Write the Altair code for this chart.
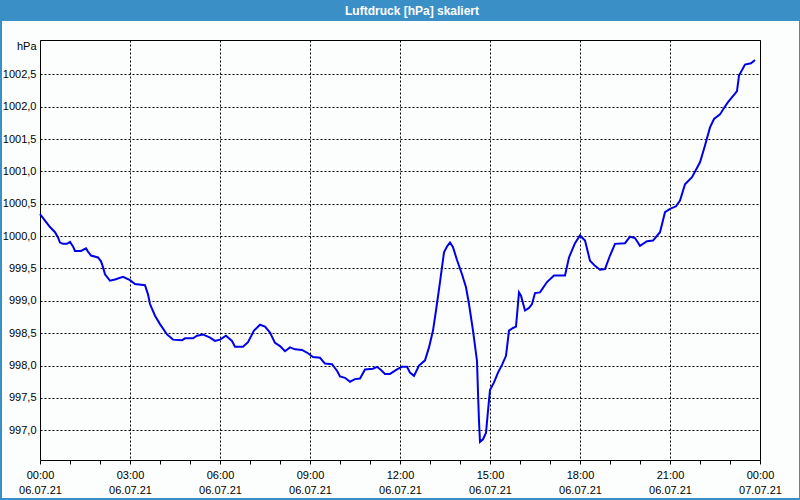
import altair as alt
import pandas as pd

# --- data ---
times = [
    "00:00", "00:10", "00:20", "00:30", "00:36", "00:40", "00:46", "00:54", "01:00", "01:06",
    "01:10", "01:22", "01:32", "01:36", "01:42", "01:56", "02:02", "02:06", "02:10", "02:20",
    "02:30", "02:46", "03:00", "03:10", "03:30", "03:36", "03:40", "03:50", "04:00", "04:14",
    "04:26", "04:44", "04:50", "05:06", "05:14", "05:26", "05:40", "05:50", "06:00", "06:12",
    "06:24", "06:30", "06:46", "06:56", "07:08", "07:20", "07:30", "07:40", "07:50", "08:00",
    "08:10", "08:20", "08:30", "08:44", "08:56", "09:06", "09:20", "09:30", "09:44", "09:54",
    "10:00", "10:10", "10:20", "10:30", "10:40", "10:50", "11:06", "11:14", "11:22", "11:30",
    "11:40", "11:54", "12:04", "12:14", "12:20", "12:28", "12:38", "12:50", "12:58", "13:06",
    "13:12", "13:20", "13:28", "13:34", "13:40", "13:46", "13:54", "14:04", "14:12", "14:18",
    "14:26", "14:34", "14:36", "14:38", "14:40", "14:46", "14:52", "14:56", "15:00", "15:08",
    "15:16", "15:24", "15:32", "15:38", "15:46", "15:52", "15:58", "16:02", "16:10", "16:18",
    "16:24", "16:30", "16:40", "16:54", "17:08", "17:30", "17:38", "17:50", "18:00", "18:10",
    "18:20", "18:30", "18:40", "18:50", "19:00", "19:10", "19:30", "19:40", "19:50", "20:00",
    "20:14", "20:26", "20:40", "20:50", "21:00", "21:12", "21:20", "21:30", "21:44", "22:00",
    "22:10", "22:20", "22:28", "22:40", "22:48", "22:56", "23:10", "23:14", "23:18", "23:30",
    "23:42", "23:50",
]
pressure = [
    1000.34, 1000.24, 1000.14, 1000.06, 999.98, 999.90, 999.88, 999.88, 999.91, 999.84,
    999.77, 999.77, 999.81, 999.76, 999.70, 999.67, 999.61, 999.52, 999.41, 999.31,
    999.33, 999.37, 999.32, 999.26, 999.24, 999.10, 998.95, 998.77, 998.64, 998.48,
    998.40, 998.39, 998.42, 998.42, 998.46, 998.48, 998.43, 998.38, 998.40, 998.46,
    998.38, 998.29, 998.29, 998.36, 998.54, 998.63, 998.60, 998.51, 998.35, 998.30,
    998.22, 998.28, 998.25, 998.24, 998.19, 998.13, 998.12, 998.03, 998.02, 997.92,
    997.83, 997.81, 997.75, 997.79, 997.80, 997.94, 997.95, 997.98, 997.93, 997.87,
    997.87, 997.94, 997.98, 997.98, 997.89, 997.84, 998.00, 998.08, 998.28, 998.54,
    998.85, 999.29, 999.75, 999.84, 999.90, 999.83, 999.63, 999.41, 999.21, 998.95,
    998.54, 998.07, 997.58, 997.14, 996.82, 996.86, 996.96, 997.30, 997.62, 997.74,
    997.89, 998.01, 998.15, 998.54, 998.58, 998.60, 999.13, 999.08, 998.85, 998.89,
    998.95, 999.12, 999.13, 999.29, 999.39, 999.39, 999.67, 999.89, 1000.01, 999.93,
    999.62, 999.54, 999.48, 999.49, 999.70, 999.88, 999.89, 999.99, 999.97, 999.85,
    999.92, 999.93, 1000.06, 1000.37, 1000.42, 1000.46, 1000.55, 1000.80, 1000.91, 1001.14,
    1001.40, 1001.68, 1001.81, 1001.88, 1001.98, 1002.07, 1002.20, 1002.24, 1002.48, 1002.65,
    1002.67, 1002.72,
]
y_ticks = [997.0, 997.5, 998.0, 998.5, 999.0, 999.5, 1000.0, 1000.5, 1001.0, 1001.5, 1002.0, 1002.5]
x_ticks = list(range(0, 25))
day1 = "06.07.21"
day2 = "07.07.21"
title_text = "Luftdruck [hPa] skaliert"
unit_text = "hPa"


def to_hours(t):
    h, m = t.split(":")
    return int(h) + int(m) / 60.0


df = pd.DataFrame({"t": [to_hours(t) for t in times], "p": pressure})

FONT = "Liberation Sans"
BLUE = "#3b8fc7"
BG = "#fcfefe"

x_label_expr = (
    "datum.value % 3 == 0 ? [(datum.value % 24 < 10 ? '0' : '') + (datum.value % 24) + ':00', "
    f"datum.value == 24 ? '{day2}' : '{day1}'] : ''"
)

line = alt.Chart(df).mark_line(color="#0000e6", strokeWidth=2).encode(
    x=alt.X(
        "t:Q",
        scale=alt.Scale(domain=[0, 24], nice=False, zero=False),
        axis=alt.Axis(
            values=x_ticks,
            title=None,
            labelExpr=x_label_expr,
            grid=True,
            gridOpacity={"condition": {"test": "datum.value % 3 == 0", "value": 1}, "value": 0},
            tickSize=4,
            labelPadding=5,
            labelLineHeight=15,
            labelOverlap=False,
            labelFlush=False,
            domain=False,
        ),
    ),
    y=alt.Y(
        "p:Q",
        scale=alt.Scale(domain=[996.54, 1003.03], nice=False, zero=False),
        axis=alt.Axis(
            values=y_ticks,
            title=unit_text,
            titleAngle=0,
            titleX=-4,
            titleY=6,
            titleAlign="right",
            titleBaseline="middle",
            ticks=False,
            labelPadding=4,
            labelExpr="replace(format(datum.value, '.1f'), '.', ',')",
            domain=False,
        ),
    ),
)

one = alt.Data(values=[{}])

title_bar = alt.Chart(one).mark_rect(color=BLUE).encode(
    x=alt.value(-40), x2=alt.value(760), y=alt.value(-40), y2=alt.value(-19)
)
left_border = alt.Chart(one).mark_rect(color=BLUE).encode(
    x=alt.value(-40), x2=alt.value(-38), y=alt.value(-40), y2=alt.value(460)
)
right_border = alt.Chart(one).mark_rect(color=BLUE).encode(
    x=alt.value(759), x2=alt.value(760), y=alt.value(-40), y2=alt.value(460)
)
bottom_border = alt.Chart(one).mark_rect(color=BLUE).encode(
    x=alt.value(-40), x2=alt.value(760), y=alt.value(458), y2=alt.value(460)
)
title = alt.Chart(one).mark_text(
    text=title_text, font=FONT, fontSize=12, fontWeight="bold", color="white",
    align="center", baseline="middle"
).encode(x=alt.value(372), y=alt.value(-29.5))

chart = alt.layer(
    line, title_bar, left_border, right_border, bottom_border, title
).properties(
    width=720,
    height=420,
    autosize=alt.AutoSizeParams(type="none"),
    padding={"left": 40, "top": 40, "right": 40, "bottom": 40},
).configure(
    background=BG
).configure_view(
    stroke="black", strokeWidth=1
).configure_axis(
    labelFont=FONT,
    labelFontSize=11,
    labelColor="black",
    titleFont=FONT,
    titleFontSize=11,
    titleFontWeight="normal",
    titleColor="black",
    gridColor="black",
    gridDash=[2, 2],
    gridWidth=1,
    tickColor="black",
)

chart.save("out.html", embed_options={"renderer": "svg", "actions": False})
